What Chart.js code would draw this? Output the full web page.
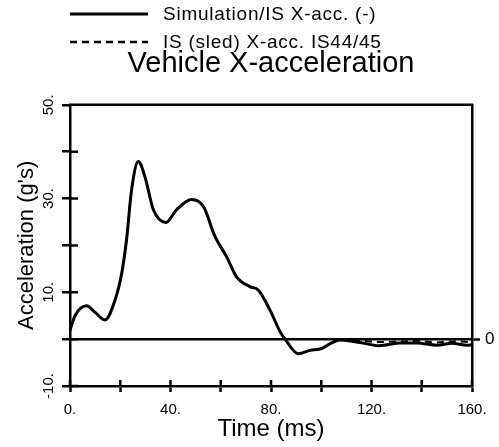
<!DOCTYPE html>
<html>
<head>
<meta charset="utf-8">
<script src="https://cdn.jsdelivr.net/npm/chart.js@4/dist/chart.umd.min.js"></script>
<style>
    html, body { margin: 0; padding: 0; background: #fff; }
    #wrap { width: 499px; height: 447px; }
</style>
</head>
<body>
<div id="wrap"><canvas id="accChart" width="499" height="447"></canvas></div>
<script>
/* ===================================================== */
/* DATA                                                    */
/* ===================================================== */

const chartTitle = 'Vehicle X-acceleration';
const seriesLabels = ['Simulation/IS X-acc. (-)', 'IS (sled) X-acc. IS44/45'];

// time in ms
const timeMs = [0, 2, 6.6, 10, 13.9, 17.9, 20.6, 22.5, 24.5, 27.2, 29.8, 33.2, 38.2, 42.4, 48.4,
    53.1, 57.7, 62.3, 66.3, 71.6, 74.9, 79.6, 83.6, 85.6, 90.9, 95.5, 100.2, 104.1, 107.5,
    115.4, 123, 131.6, 138, 146, 152, 158, 160];

// acceleration in g's
const simAcc = [1.9, 5.0, 7.1, 5.7, 4.1, 8.3, 14.1, 21.2, 31.8, 37.9, 34.7, 27.6, 24.9, 27.6, 29.8,
    28.3, 21.9, 17.6, 13.3, 11.2, 10.5, 6.2, 1.6, 0, -3.1, -2.4, -2.0, -0.8, -0.2,
    -0.7, -1.4, -0.8, -0.8, -1.3, -0.9, -1.3, -1.2];

const sledAcc = [1.9, 5.0, 7.1, 5.7, 4.1, 8.3, 14.1, 21.2, 31.8, 37.9, 34.7, 27.6, 24.9, 27.6, 29.8,
    28.3, 21.9, 17.6, 13.3, 11.2, 10.5, 6.2, 1.6, 0, -3.1, -2.4, -2.0, -0.8, -0.1,
    -0.3, -0.6, -0.5, -0.4, -0.7, -0.5, -0.6, -0.8];

const xTicksLabeled = [0, 40, 80, 120, 160];
const yTicksLabeled = [-10, 10, 30, 50];

/* ===================================================== */
/* HELPERS                                                 */
/* ===================================================== */

const FONT = '"Liberation Sans", Arial, Helvetica, sans-serif';
Chart.defaults.font.family = FONT;
Chart.defaults.color = '#000';

function toPoints(xs, ys) {
    return xs.map((x, i) => ({ x: x, y: ys[i] }));
}

/* ===================================================== */
/* PLUGINS                                                 */
/* ===================================================== */

// inner halves of the tick marks, top frame line
const framePlugin = {
    id: 'frame',
    afterDatasetsDraw(chart) {
        const ctx = chart.ctx;
        const area = chart.chartArea;
        const xs = chart.scales.x;
        const ys = chart.scales.y;
        ctx.save();
        ctx.strokeStyle = '#000';
        ctx.lineWidth = 2.5;
        ctx.beginPath();
        ctx.moveTo(area.left - 1, area.top);
        ctx.lineTo(area.right + 1, area.top);
        ys.ticks.forEach(t => {
            const py = ys.getPixelForValue(t.value);
            ctx.moveTo(area.left, py);
            ctx.lineTo(area.left + 8, py);
        });
        xs.ticks.forEach(t => {
            const px = xs.getPixelForValue(t.value);
            ctx.moveTo(px, area.bottom);
            ctx.lineTo(px, area.bottom - 6);
        });
        ctx.stroke();
        ctx.restore();
    }
};

// legend: two stacked rows with long line samples
const legendPlugin = {
    id: 'stackLegend',
    afterDraw(chart) {
        const ctx = chart.ctx;
        const rows = [14, 42];
        ctx.save();
        ctx.font = '19px ' + FONT;
        ctx.letterSpacing = '0.75px';
        ctx.fillStyle = '#000';
        ctx.textBaseline = 'middle';
        chart.data.datasets.forEach((ds, i) => {
            const y = rows[i];
            ctx.strokeStyle = '#000';
            ctx.lineWidth = i === 0 ? 3 : 2.5;
            ctx.setLineDash(ds.borderDash || []);
            ctx.beginPath();
            ctx.moveTo(70, y);
            ctx.lineTo(148, y);
            ctx.stroke();
            ctx.setLineDash([]);
            ctx.fillText(ds.label, 163, y + 1);
        });
        ctx.restore();
    }
};

/* ===================================================== */
/* CHART                                                   */
/* ===================================================== */

function renderChart() {
    const ctx = document.getElementById('accChart').getContext('2d');

    new Chart(ctx, {
        type: 'line',
        data: {
            datasets: [{
                label: seriesLabels[0],
                data: toPoints(timeMs, simAcc),
                borderColor: '#000',
                borderWidth: 3,
                pointRadius: 0,
                cubicInterpolationMode: 'monotone',
                fill: false
            }, {
                label: seriesLabels[1],
                data: toPoints(timeMs, sledAcc),
                borderColor: '#000',
                borderWidth: 2,
                borderDash: [7, 5],
                pointRadius: 0,
                cubicInterpolationMode: 'monotone',
                fill: false
            }]
        },
        options: {
            responsive: false,
            animation: false,
            layout: { padding: 0 },
            plugins: {
                legend: { display: false },
                tooltip: { enabled: false },
                title: {
                    display: true,
                    text: chartTitle,
                    fullSize: false,
                    font: { size: 29, weight: 'normal' },
                    color: '#000',
                    padding: { top: 47, bottom: 23 }
                }
            },
            scales: {
                x: {
                    type: 'linear',
                    position: 'bottom',
                    min: 0,
                    max: 160,
                    ticks: {
                        stepSize: 20,
                        autoSkip: false,
                        maxRotation: 0,
                        padding: 9,
                        font: { size: 15 },
                        callback: v => xTicksLabeled.includes(v) ? v + '.' : ''
                    },
                    grid: { drawOnChartArea: false, tickLength: 6, tickWidth: 2.5, tickColor: '#000' },
                    border: { color: '#000', width: 2.5 },
                    title: {
                        display: true,
                        text: 'Time (ms)',
                        font: { size: 24 },
                        padding: { top: 0, bottom: 3 }
                    },
                    afterFit: s => { s.height = 61; }
                },
                y: {
                    position: 'left',
                    min: -10,
                    max: 50,
                    ticks: {
                        stepSize: 10,
                        minRotation: 90,
                        maxRotation: 90,
                        crossAlign: 'center',
                        padding: 0,
                        font: { size: 15 },
                        callback: v => yTicksLabeled.includes(v) ? v + '.' : ''
                    },
                    grid: {
                        drawOnChartArea: true,
                        lineWidth: 2.5,
                        color: c => c.tick && c.tick.value === 0 ? '#000' : 'rgba(0,0,0,0)',
                        tickLength: 8,
                        tickWidth: 2.5,
                        tickColor: '#000'
                    },
                    border: { color: '#000', width: 2.5 },
                    title: {
                        display: true,
                        text: "Acceleration (g's)",
                        font: { size: 22 },
                        padding: { top: 14, bottom: 0 }
                    },
                    afterFit: s => { s.width = 70; }
                },
                y2: {
                    position: 'right',
                    min: -10,
                    max: 50,
                    ticks: {
                        stepSize: 10,
                        padding: 5,
                        font: { size: 17 },
                        callback: v => v === 0 ? '0' : ''
                    },
                    grid: {
                        drawOnChartArea: false,
                        tickLength: 8,
                        tickWidth: 2.5,
                        tickColor: c => c.tick && c.tick.value === 0 ? '#000' : 'rgba(0,0,0,0)'
                    },
                    border: { color: '#000', width: 2.5 },
                    afterFit: s => { s.width = 27; }
                }
            }
        },
        plugins: [framePlugin, legendPlugin]
    });
}

renderChart();
</script>
</body>
</html>
